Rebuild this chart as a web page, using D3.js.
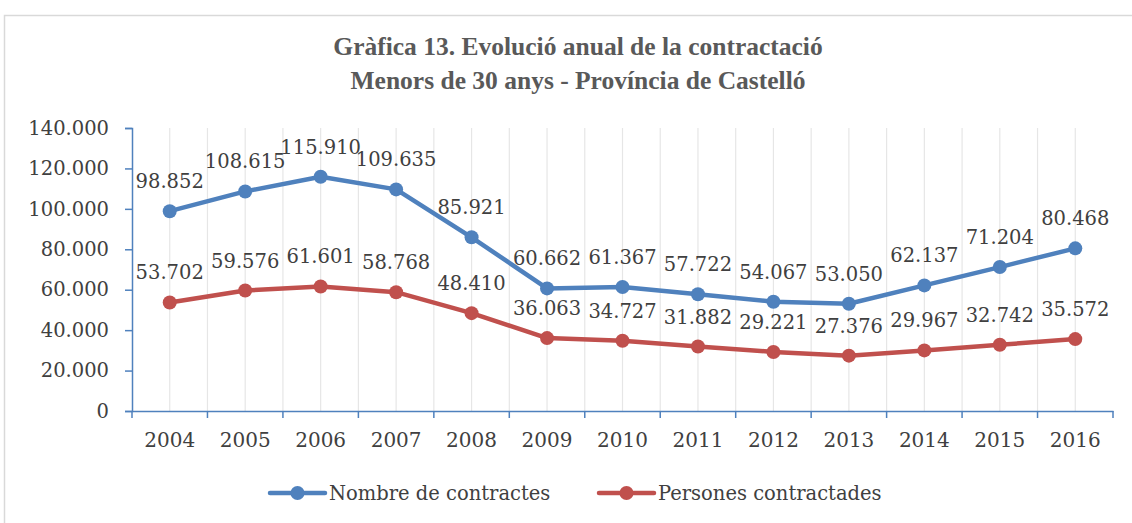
<!DOCTYPE html>
<html>
<head>
<meta charset="utf-8">
<script src="https://cdn.jsdelivr.net/npm/d3@7"></script>
<style>
  body { margin: 0; background: #fff; }
  text { font-family: "DejaVu Serif", serif; fill: #404040; }
</style>
</head>
<body>
<svg id="chart" width="1132" height="523"></svg>
<script>
// data
const years = ["2004", "2005", "2006", "2007", "2008", "2009", "2010", "2011", "2012", "2013", "2014", "2015", "2016"];
const contractes = [98852, 108615, 115910, 109635, 85921, 60662, 61367, 57722, 54067, 53050, 62137, 71204, 80468];
const persones = [53702, 59576, 61601, 58768, 48410, 36063, 34727, 31882, 29221, 27376, 29967, 32742, 35572];
const yTicks = [0, 20000, 40000, 60000, 80000, 100000, 120000, 140000];
const titleLines = ["Gràfica 13. Evolució anual de la contractació", "Menors de 30 anys - Província de Castelló"];
const seriesNames = ["Nombre de contractes", "Persones contractades"];

const blue = "#4f81bd", red = "#c0504d", axisColor = "#4f81bd";

const svg = d3.select("#chart");

// frame
svg.append("rect")
  .attr("x", 4.5).attr("y", 15.5)
  .attr("width", 1140).attr("height", 520)
  .attr("fill", "none").attr("stroke", "#d9d9d9").attr("stroke-width", 1.5);

// title
svg.selectAll(".title")
  .data(titleLines)
  .join("text")
  .attr("class", "title")
  .attr("x", 578)
  .attr("y", (d, i) => 55 + i * 34)
  .attr("text-anchor", "middle")
  .style("font-family", "'Liberation Serif', serif")
  .style("font-weight", "bold")
  .style("font-size", "25.5px")
  .style("fill", "#595959")
  .text(d => d);

// scales
const x = d3.scaleBand().domain(years).range([132, 1113]).padding(0);
const y = d3.scaleLinear().domain([0, 140000]).range([411, 128]);
const cx = d => x(d) + x.bandwidth() / 2;

// vertical gridlines (band centres and boundaries)
const gridX = [];
years.forEach((d, i) => {
  gridX.push(cx(d));
  if (i > 0) gridX.push(x(d));
});
svg.append("g")
  .selectAll("line")
  .data(gridX)
  .join("line")
  .attr("x1", d => d).attr("x2", d => d)
  .attr("y1", y(140000)).attr("y2", y(0))
  .attr("stroke", "#e6e6e6").attr("stroke-width", 1.2);

// y axis
const yAxis = svg.append("g")
  .attr("transform", "translate(132,0)")
  .call(d3.axisLeft(y).tickValues(yTicks).tickSize(7).tickPadding(16)
    .tickFormat(d => d === 0 ? "0" : d3.format(",")(d).replace(/,/g, ".")));
yAxis.select(".domain").attr("stroke", axisColor).attr("stroke-width", 1.5);
yAxis.selectAll(".tick line").attr("stroke", axisColor).attr("stroke-width", 1.5);
yAxis.selectAll(".tick text").style("font-size", "19.5px").style("fill", "#404040");

// x axis
const xAxis = svg.append("g")
  .attr("transform", `translate(0,${y(0)})`)
  .call(d3.axisBottom(x).tickSize(0).tickPadding(22));
xAxis.select(".domain").attr("stroke", axisColor).attr("stroke-width", 1.5);
xAxis.selectAll(".tick text").style("font-size", "20px").style("fill", "#404040");
// tick marks at band boundaries
const bounds = years.map(d => x(d)).concat([x.range()[1]]);
xAxis.selectAll(".bound")
  .data(bounds)
  .join("line")
  .attr("class", "bound")
  .attr("x1", d => d).attr("x2", d => d)
  .attr("y1", 0).attr("y2", 7)
  .attr("stroke", axisColor).attr("stroke-width", 1.5);

// lines
const line = d3.line().x((d, i) => cx(years[i])).y(d => y(d));
const series = [
  { name: seriesNames[0], values: contractes, color: blue },
  { name: seriesNames[1], values: persones, color: red }
];

series.forEach(s => {
  const g = svg.append("g");
  g.append("path")
    .datum(s.values)
    .attr("d", line)
    .attr("fill", "none")
    .attr("stroke", s.color)
    .attr("stroke-width", 4.5)
    .attr("stroke-linejoin", "round");
  g.selectAll("circle")
    .data(s.values)
    .join("circle")
    .attr("cx", (d, i) => cx(years[i]))
    .attr("cy", d => y(d))
    .attr("r", 7)
    .attr("fill", s.color);
  g.selectAll("text")
    .data(s.values)
    .join("text")
    .attr("x", (d, i) => cx(years[i]))
    .attr("y", d => y(d) - 23)
    .attr("text-anchor", "middle")
    .style("font-size", "19.5px")
    .text(d => d3.format(",")(d).replace(/,/g, "."));
});

// legend
const legendX = [270, 599];
series.forEach((s, i) => {
  const g = svg.append("g").attr("transform", `translate(${legendX[i]},493)`);
  g.append("line")
    .attr("x1", 0).attr("x2", 55)
    .attr("stroke", s.color).attr("stroke-width", 4.5)
    .attr("stroke-linecap", "round");
  g.append("circle").attr("cx", 27.5).attr("r", 7).attr("fill", s.color);
  g.append("text")
    .attr("x", 59).attr("y", 7)
    .style("font-size", "19.5px")
    .text(s.name);
});
</script>
</body>
</html>
